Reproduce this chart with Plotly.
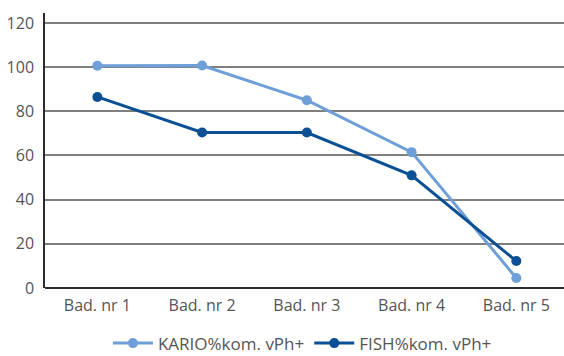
import plotly.graph_objects as go

categories = ["Bad. nr 1", "Bad. nr 2", "Bad. nr 3", "Bad. nr 4", "Bad. nr 5"]
kario_values = [100.6, 100.7, 85, 61.5, 4.5]
fish_values = [86.5, 70.4, 70.4, 51, 12.2]
y_ticks = [0, 20, 40, 60, 80, 100, 120]

KARIO_COLOR = "#6f9fd8"
FISH_COLOR = "#0b4f94"
TEXT_COLOR = "#555555"

fig = go.Figure()
fig.add_trace(go.Scatter(
    x=list(range(len(categories))), y=kario_values, name="KARIO%kom. vPh+",
    mode="lines+markers",
    line=dict(color=KARIO_COLOR, width=3),
    marker=dict(color=KARIO_COLOR, size=10),
))
fig.add_trace(go.Scatter(
    x=list(range(len(categories))), y=fish_values, name="FISH%kom. vPh+",
    mode="lines+markers",
    line=dict(color=FISH_COLOR, width=3),
    marker=dict(color=FISH_COLOR, size=10),
))

fig.update_layout(
    width=564, height=356,
    margin=dict(l=45, r=0, t=13, b=68, autoexpand=False),
    paper_bgcolor="white", plot_bgcolor="white",
    font=dict(family="Open Sans, sans-serif", size=16, color=TEXT_COLOR),
    showlegend=True,
    legend=dict(
        orientation="h", x=0.496, xanchor="center",
        yref="container", y=0.035, yanchor="middle",
        itemwidth=40, font=dict(size=17, color=TEXT_COLOR),
    ),
    xaxis=dict(
        range=[-0.5, 4.455],
        tickmode="array", tickvals=list(range(len(categories))), ticktext=categories,
        showgrid=False, zeroline=False,
        showline=False, ticks="", ticklabelstandoff=6,
    ),
    yaxis=dict(
        range=[0, 124.5],
        tickmode="array", tickvals=y_ticks,
        showgrid=True, gridcolor="#7f7f7f", gridwidth=1.5,
        zeroline=True, zerolinecolor="#2b2b2b", zerolinewidth=2,
        showline=True, linecolor="#2b2b2b", linewidth=1.5,
        ticks="", ticklabelstandoff=6,
    ),
)

fig.write_html("out.html")
